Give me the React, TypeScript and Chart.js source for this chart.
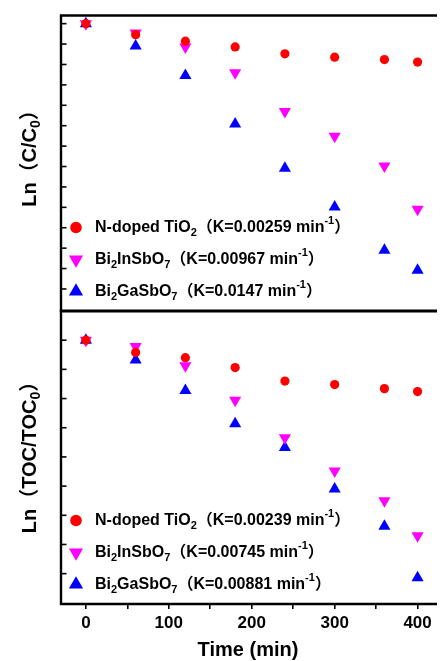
import { useEffect, useRef } from 'react';
import { Chart, registerables } from 'chart.js';
import { drawPoint } from 'chart.js/helpers';

Chart.register(...registerables);

// Sampling times (min)
const times = [0, 60, 120, 180, 240, 300, 360, 400];

// ln(C/C0) of the dye solution
const dyeTiO2 = [0, -0.27, -0.43, -0.57, -0.74, -0.82, -0.88, -0.94];
const dyeInSb = [0, -0.23, -0.57, -1.2, -2.15, -2.76, -3.49, -4.55];
const dyeGaSb = [0, -0.55, -1.27, -2.46, -3.54, -4.49, -5.55, -6.04];

// ln(TOC/TOC0)
const tocTiO2 = [0, -0.21, -0.3, -0.47, -0.7, -0.76, -0.83, -0.88];
const tocInSb = [0, -0.11, -0.44, -1.03, -1.67, -2.24, -2.75, -3.35];
const tocGaSb = [0, -0.34, -0.86, -1.43, -1.84, -2.55, -3.19, -4.07];

// First-order rate constants shown in the legends
const dyeRates = ['0.00259', '0.00967', '0.0147'];
const tocRates = ['0.00239', '0.00745', '0.00881'];

// Axis tick positions
const xTickValues = [0, 50, 100, 150, 200, 250, 300, 350, 400];
const dyeTickValues = [0, -0.5, -1, -1.5, -2, -2.5, -3, -3.5, -4, -4.5, -5, -5.5, -6, -6.5];
const tocTickValues = [0, -0.5, -1, -1.5, -2, -2.5, -3, -3.5, -4];

type Seg = [string, '' | 'sub' | 'sup'];

const seriesNames: Seg[][] = [
  [['N-doped TiO', ''], ['2', 'sub']],
  [['Bi', ''], ['2', 'sub'], ['InSbO', ''], ['7', 'sub']],
  [['Bi', ''], ['2', 'sub'], ['GaSbO', ''], ['7', 'sub']],
];

const seriesStyles = [
  { color: '#ff0000', pointStyle: 'circle', rotation: 0, radius: 4.6, legendRadius: 5.8 },
  { color: '#ff00ff', pointStyle: 'triangle', rotation: 180, radius: 7, legendRadius: 8.2 },
  { color: '#0000ff', pointStyle: 'triangle', rotation: 0, radius: 7, legendRadius: 8.2 },
];

const FONT = '"Liberation Sans", Arial, "Noto Sans CJK SC", sans-serif';

function toPoints(values: number[]) {
  return values.map((v, i) => ({ x: times[i], y: v }));
}

function drawRich(ctx: CanvasRenderingContext2D, segs: Seg[], x: number, y: number, size: number, center: boolean) {
  const fontFor = (k: string) => `bold ${k === '' ? size : Math.round(size * 0.7)}px ${FONT}`;
  let total = 0;
  const widths = segs.map(([t, k]) => {
    ctx.font = fontFor(k);
    const w = ctx.measureText(t).width;
    total += w;
    return w;
  });
  let cx = center ? x - total / 2 : x;
  segs.forEach(([t, k], i) => {
    ctx.font = fontFor(k);
    const dy = k === 'sub' ? size * 0.32 : k === 'sup' ? -size * 0.42 : 0;
    ctx.fillText(t, cx, y + dy);
    cx += widths[i];
  });
}

const decorPlugin = {
  id: 'decor',
  afterDraw(chart: any) {
    const { ctx, chartArea, scales } = chart;
    const yTop = scales.yTop;
    const yBot = scales.yBot;
    const left = chartArea.left;
    const right = chartArea.right;
    ctx.save();

    // inward tick marks on the left axis
    ctx.strokeStyle = '#000';
    ctx.lineWidth = 1.6;
    for (const s of [yTop, yBot]) {
      for (const t of s.ticks) {
        const y = s.getPixelForValue(t.value);
        ctx.beginPath();
        ctx.moveTo(left, y);
        ctx.lineTo(left + 5.5, y);
        ctx.stroke();
      }
    }

    // frame lines
    ctx.lineWidth = 2.4;
    ctx.beginPath();
    ctx.moveTo(left, yTop.top);
    ctx.lineTo(left, yBot.bottom);
    ctx.moveTo(left - 1.2, yTop.top);
    ctx.lineTo(right + 2, yTop.top);
    ctx.moveTo(left - 1.2, yBot.bottom);
    ctx.lineTo(right + 2, yBot.bottom);
    ctx.stroke();
    ctx.lineWidth = 3;
    ctx.beginPath();
    ctx.moveTo(left - 1.2, yTop.bottom);
    ctx.lineTo(right + 2, yTop.bottom);
    ctx.stroke();

    // legends
    const rowOffsets = [-83.5, -51.5, -19.5];
    const panels = [
      { scale: yTop, rates: dyeRates },
      { scale: yBot, rates: tocRates },
    ];
    ctx.textBaseline = 'middle';
    ctx.textAlign = 'left';
    for (const p of panels) {
      seriesStyles.forEach((st, i) => {
        const y = p.scale.bottom + rowOffsets[i];
        ctx.fillStyle = st.color;
        ctx.strokeStyle = st.color;
        drawPoint(ctx, { pointStyle: st.pointStyle, rotation: st.rotation, radius: st.legendRadius, borderWidth: 0 }, left + 15, y);
        ctx.fillStyle = '#000';
        const segs: Seg[] = [...seriesNames[i], [`（K=${p.rates[i]} min`, ''], ['-1', 'sup'], ['）', '']];
        drawRich(ctx, segs, left + 34, y, 16, false);
      });
    }

    // rotated y-axis titles
    const titles: { segs: Seg[]; cy: number }[] = [
      { segs: [['Ln（C/C', ''], ['0', 'sub'], ['）', '']], cy: 153.5 },
      { segs: [['Ln（TOC/TOC', ''], ['0', 'sub'], ['）', '']], cy: 452.5 },
    ];
    for (const t of titles) {
      ctx.save();
      ctx.translate(30, t.cy);
      ctx.rotate(-Math.PI / 2);
      ctx.fillStyle = '#000';
      drawRich(ctx, t.segs, 0, 0, 20, true);
      ctx.restore();
    }
    ctx.restore();
  },
};

export default function App() {
  const canvasRef = useRef<HTMLCanvasElement | null>(null);

  useEffect(() => {
    const canvas = canvasRef.current;
    if (!canvas) return;

    const panels = [
      { axis: 'yTop', values: [dyeTiO2, dyeInSb, dyeGaSb] },
      { axis: 'yBot', values: [tocTiO2, tocInSb, tocGaSb] },
    ];
    const datasets: any[] = [];
    for (const p of panels) {
      p.values.forEach((vals, i) => {
        const st = seriesStyles[i];
        datasets.push({
          label: `${p.axis}-${i}`,
          data: toPoints(vals),
          yAxisID: p.axis,
          pointStyle: st.pointStyle,
          rotation: st.rotation,
          pointRadius: st.radius,
          pointBackgroundColor: st.color,
          pointBorderColor: st.color,
          pointBorderWidth: 0,
          showLine: false,
        });
      });
    }

    const chart = new Chart(canvas, {
      type: 'scatter',
      data: { datasets },
      plugins: [decorPlugin],
      options: {
        animation: false,
        responsive: false,
        devicePixelRatio: 1,
        layout: { padding: { left: 61, top: 15.5, right: 0, bottom: 0 } },
        plugins: { legend: { display: false }, tooltip: { enabled: false } },
        scales: {
          x: {
            type: 'linear',
            min: -30,
            max: 421,
            afterBuildTicks: (s: any) => {
              s.ticks = xTickValues.map((v) => ({ value: v }));
            },
            afterFit: (s: any) => {
              s.height = 57;
            },
            grid: { drawOnChartArea: false, drawTicks: true, tickLength: 5, color: '#000', lineWidth: 1.6 },
            border: { display: false },
            ticks: {
              color: '#000',
              padding: 4,
              maxRotation: 0,
              autoSkip: false,
              font: { family: FONT, size: 17, weight: 'bold' },
              callback: (v: any) => (Number(v) % 100 === 0 ? String(v) : ''),
            },
            title: {
              display: true,
              text: 'Time (min)',
              color: '#000',
              font: { family: FONT, size: 20, weight: 'bold', lineHeight: 1.1 },
              padding: { top: 0, bottom: 0 },
            },
          },
          // left-stacked boxes are placed last-defined first, so the lower panel is listed first
          yBot: {
            type: 'linear',
            position: 'left',
            stack: 'panels',
            stackWeight: 293,
            min: -4.52,
            max: 0.5,
            afterBuildTicks: (s: any) => {
              s.ticks = tocTickValues.map((v) => ({ value: v }));
            },
            afterFit: (s: any) => {
              s.width = 0;
            },
            grid: { display: false, drawTicks: false },
            border: { display: false },
            ticks: { display: false },
          },
          yTop: {
            type: 'linear',
            position: 'left',
            stack: 'panels',
            stackWeight: 295.5,
            min: -7.04,
            max: 0.2,
            afterBuildTicks: (s: any) => {
              s.ticks = dyeTickValues.map((v) => ({ value: v }));
            },
            afterFit: (s: any) => {
              s.width = 0;
            },
            grid: { display: false, drawTicks: false },
            border: { display: false },
            ticks: { display: false },
          },
        },
      } as any,
    });

    return () => chart.destroy();
  }, []);

  return (
    <div style={{ position: 'fixed', left: 0, top: 0, width: 442, height: 661, background: '#fff' }}>
      <canvas ref={canvasRef} width={442} height={661} style={{ display: 'block', width: 442, height: 661 }} />
    </div>
  );
}
